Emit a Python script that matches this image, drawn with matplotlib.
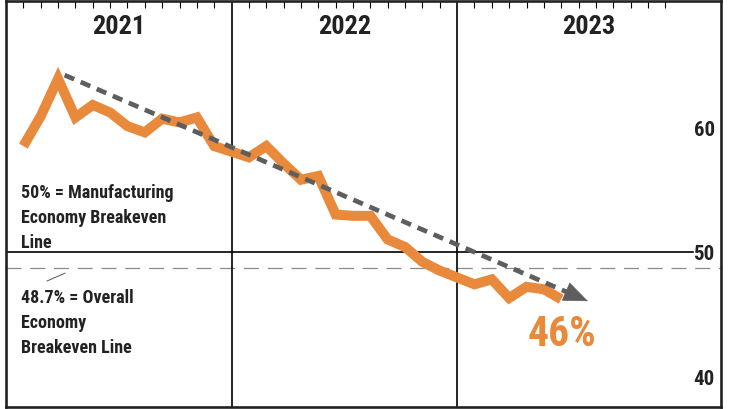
import matplotlib
matplotlib.use("Agg")
import matplotlib.pyplot as plt
from matplotlib import font_manager
from matplotlib.transforms import blended_transform_factory

# --- data -------------------------------------------------------------
years = [2021, 2022, 2023]
pmi_2021 = [58.5, 60.9, 63.9, 60.8, 61.8, 61.2, 60.1, 59.6, 60.7, 60.4, 60.8, 58.5]
pmi_2022 = [57.6, 58.5, 57.1, 55.8, 56.1, 53.0, 52.9, 52.9, 51.0, 50.4, 49.2, 48.5]
pmi_2023 = [47.4, 47.8, 46.3, 47.2, 47.0, 46.2]
ytick_vals = [40, 50, 60]
mfg_breakeven = 50.0
overall_breakeven = 48.7
last_label = "46%"
# trend arrow (start / tip), in (year-position, value)
trend_start = (2021.26, 64.2)
trend_tip = (2023.58, 46.05)

ORANGE = "#E8893B"
GREY = "#5E5E5E"
INK = "#222222"

# pick a narrow/condensed face if the box has one
names = {f.name for f in font_manager.fontManager.ttflist}
narrow = [n for n in ("Liberation Sans Narrow", "Roboto Condensed", "Open Sans Condensed",
                      "DejaVu Sans Condensed") if n in names]
FONT = narrow[:1] + ["DejaVu Sans"]


def month_x(year, n):
    # months sit at year + m/13 (12 ticks spread inside each year box)
    return [year + (m + 1) / 13 for m in range(n)]


xs = month_x(2021, len(pmi_2021)) + month_x(2022, len(pmi_2022)) + month_x(2023, len(pmi_2023))
ys = pmi_2021 + pmi_2022 + pmi_2023

fig = plt.figure(figsize=(7.3, 4.1), dpi=100, facecolor="white")
ax = fig.add_axes([6 / 730, 2 / 410, 715 / 730, 406 / 410])
xmax = 2024.17
ax.set_xlim(2021, xmax)
ax.set_ylim(37.55, 70.15)

# reference lines
ax.axhline(mfg_breakeven, xmax=0.961, color="black", lw=1.2, zorder=2)
ax.axhline(overall_breakeven, color="#8A8A8A", lw=0.9, dashes=(12, 7), zorder=2)
for yr in years[1:]:
    ax.axvline(yr, color="black", lw=1.2, zorder=2)

# PMI line
ax.plot(xs, ys, color=ORANGE, lw=7.2, solid_joinstyle="miter",
        solid_capstyle="butt", zorder=3)

# trend arrow: dashed body + solid head
frac = 0.965
base = (trend_start[0] + frac * (trend_tip[0] - trend_start[0]),
        trend_start[1] + frac * (trend_tip[1] - trend_start[1]))
ax.plot([trend_start[0], base[0]], [trend_start[1], base[1]],
        color=GREY, lw=3.4, dashes=(2.2, 1.5), dash_capstyle="butt", zorder=4)
ax.annotate("", xy=trend_tip, xytext=base,
            arrowprops=dict(arrowstyle="-|>,head_length=1.1,head_width=0.45",
                            mutation_scale=15, color=GREY, lw=0.5,
                            shrinkA=0, shrinkB=0), zorder=4)

txt = dict(fontweight="bold", family=FONT, stretch="condensed")

ax.text(xs[-1] + 0.005, ys[-1] - 2.75, last_label, color=ORANGE, fontsize=30,
        ha="center", va="center", **txt)

# year headers
bounds = years + [xmax]
tr = blended_transform_factory(ax.transData, ax.transAxes)
for i, yr in enumerate(years):
    ax.text((bounds[i] + bounds[i + 1]) / 2, 0.938, str(yr), transform=tr,
            ha="center", va="center", fontsize=19, color=INK, **txt)

# breakeven notes
ax.text(2021.065, 55.5, "50% = Manufacturing\nEconomy Breakeven\nLine",
        fontsize=13, color=INK, ha="left", va="top", linespacing=1.5, **txt)
ax.text(2021.065, 47.1, "48.7% = Overall\nEconomy\nBreakeven Line",
        fontsize=13, color=INK, ha="left", va="top", linespacing=1.5, **txt)
ax.plot([2021.182, 2021.262], [47.67, 48.3], color="#555555", lw=0.7)

# ticks
ax.xaxis.tick_top()
ax.set_xticks([x for yr in years for x in month_x(yr, 12)])
ax.tick_params(axis="x", direction="in", length=5, width=0.8, labeltop=False)
ax.yaxis.tick_right()
ax.set_yticks(ytick_vals)
ax.tick_params(axis="y", length=0, pad=-4.5, labelsize=15)
for lbl in ax.get_yticklabels():
    lbl.set_ha("right")
    lbl.set_fontweight("bold")
    lbl.set_family(FONT)
    lbl.set_stretch("condensed")
    lbl.set_color(INK)

for s in ax.spines.values():
    s.set_linewidth(1.9)
    s.set_color(INK)

fig.savefig("out.png", dpi=100)
